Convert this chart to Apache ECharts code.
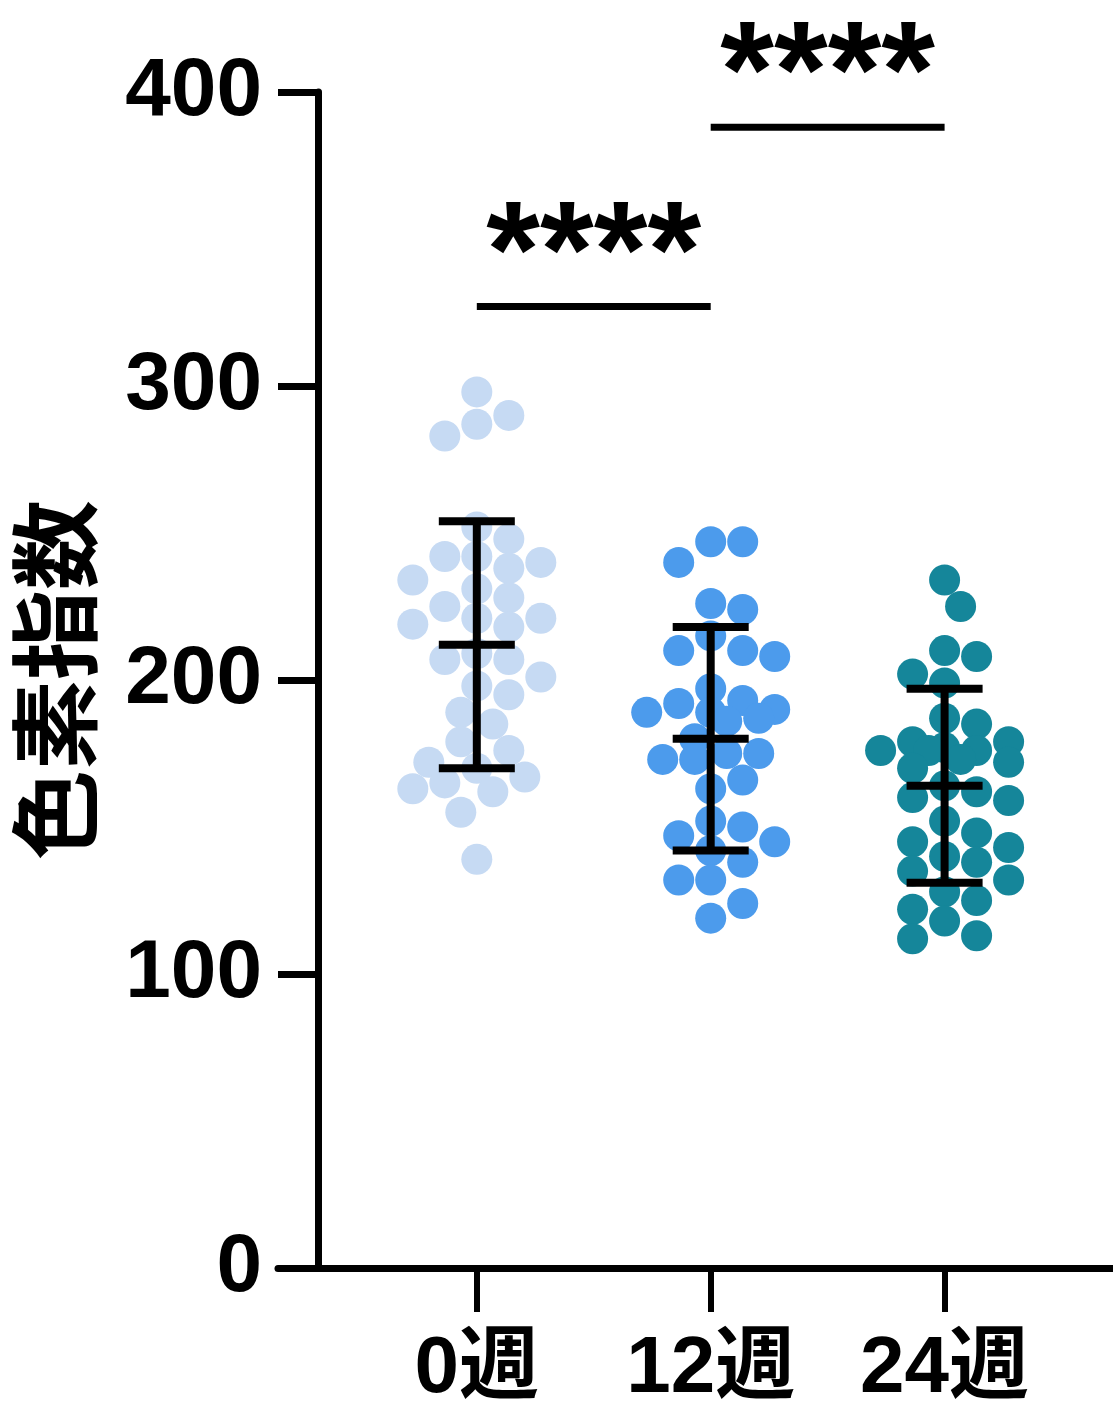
<!DOCTYPE html>
<html lang="ja">
<head>
    <meta charset="UTF-8">
    <title>色素指数</title>
    <script src="https://cdn.jsdelivr.net/npm/echarts@6/dist/echarts.min.js"></script>
    <style>
        html, body { margin: 0; padding: 0; background: #fff; }
    </style>
</head>
<body>
    <div id="main" style="width: 1113px;height: 1428px"></div>
    <script>
        // 各群の値
        var categories = ['0週', '12週', '24週'];
        var week0 = [298, 290, 287, 283, 252, 248, 242, 240, 242, 238, 234, 231, 228, 225, 221, 219, 221, 218,
            209, 207, 207, 201, 198, 195, 189, 185, 179, 176, 172, 170, 167, 165, 163, 162, 155, 139];
        var week12 = [247, 247, 240, 226, 224, 215, 210, 210, 208, 197, 193, 192, 190, 189, 189, 187, 186,
            180, 175, 175, 173, 173, 166, 163, 152, 150, 147, 145, 142, 138, 132, 132, 124, 119];
        var week24 = [234, 225, 210, 208, 202, 199, 187, 185, 179, 179, 177, 176, 176, 176, 173, 172, 170,
            164, 162, 160, 159, 152, 148, 145, 143, 140, 138, 135, 132, 128, 125, 122, 118, 113, 112];
        var means = [212, 180, 164];
        var sds = [42, 38, 33];
        var sigBars = [[0, 1, 327], [1, 2, 388]];
        var sigLabel = '****';
        var colors = ['#c6daf3', '#4c9bec', '#15869a'];

        var xMin = -0.85, xMax = 2.72;
        var gridW = 835, gridH = 1176;
        var xPx = gridW / (xMax - xMin);   // px / 1 カテゴリ
        var yPx = gridH / 400;             // px / 1 単位

        // 簡単なビースウォーム配置（幅は ±64px まで、入らなければ一番空いている所）
        var offsets = [0, 16, -16, 32, -32, 48, -48, 64, -64];
        function swarm(values, idx) {
            var placed = [];
            var sorted = values.slice().sort(function (a, b) { return b - a; });
            sorted.forEach(function (v) {
                var py = v * yPx;
                var best = null, bestD = -1;
                for (var k = 0; k < offsets.length; k++) {
                    var off = offsets[k];
                    var d = Infinity;
                    placed.forEach(function (p) {
                        var dx = p[0] - off, dy = p[1] - py;
                        d = Math.min(d, Math.sqrt(dx * dx + dy * dy));
                    });
                    if (d >= 29) { best = off; break; }
                    if (d > bestD) { bestD = d; best = off; }
                }
                placed.push([best, py]);
            });
            return placed.map(function (p) {
                return [idx + p[0] / xPx, p[1] / yPx];
            });
        }

        var groups = [week0, week12, week24];
        var scatterSeries = groups.map(function (vals, i) {
            return {
                type: 'scatter',
                data: swarm(vals, i),
                symbolSize: 31,
                itemStyle: { color: colors[i], opacity: 1 },
                z: 2
            };
        });

        var myChart = echarts.init(document.getElementById('main'));
        myChart.setOption({
            backgroundColor: '#fff',
            animation: false,
            grid: { left: 278, right: 0, top: 92, bottom: 160 },
            xAxis: {
                type: 'value',
                min: xMin,
                max: xMax,
                splitLine: { show: false },
                axisLine: { onZero: false, lineStyle: { color: '#000', width: 7 } },
                axisTick: { customValues: [0, 1, 2], length: 44, lineStyle: { color: '#000', width: 6 } },
                axisLabel: {
                    customValues: [0, 1, 2],
                    formatter: function (v) { return categories[Math.round(v)]; },
                    margin: 62,
                    color: '#000',
                    fontSize: 80,
                    fontWeight: 'bold',
                    fontFamily: '"Liberation Sans", "Noto Sans CJK JP", sans-serif'
                }
            },
            yAxis: {
                type: 'value',
                min: 0,
                max: 400,
                interval: 100,
                offset: -40,
                name: '色素指数',
                nameLocation: 'middle',
                nameRotate: 90,
                nameGap: 218,
                nameTextStyle: {
                    color: '#000',
                    fontSize: 90,
                    fontWeight: 'bold',
                    fontFamily: '"Noto Sans CJK JP", sans-serif'
                },
                splitLine: { show: false },
                axisLine: { show: true, onZero: false, lineStyle: { color: '#000', width: 7 } },
                axisTick: { show: true, length: 40, lineStyle: { color: '#000', width: 7 } },
                axisLabel: {
                    margin: 56,
                    color: '#000',
                    fontSize: 82,
                    fontWeight: 'bold',
                    fontFamily: '"Liberation Sans", sans-serif'
                }
            },
            series: scatterSeries.concat([
                {
                    // 平均 ± SD
                    type: 'custom',
                    data: means.map(function (m, i) { return [i, m, sds[i]]; }),
                    encode: { x: 0, y: 1 },
                    z: 5,
                    renderItem: function (params, api) {
                        var i = api.value(0), m = api.value(1), s = api.value(2);
                        var top = api.coord([i, m + s]);
                        var mid = api.coord([i, m]);
                        var bot = api.coord([i, m - s]);
                        var hw = 38;
                        var st = { stroke: '#000', lineWidth: 8 };
                        return {
                            type: 'group',
                            children: [
                                { type: 'line', shape: { x1: top[0], y1: top[1], x2: bot[0], y2: bot[1] }, style: st },
                                { type: 'line', shape: { x1: top[0] - hw, y1: top[1], x2: top[0] + hw, y2: top[1] }, style: st },
                                { type: 'line', shape: { x1: mid[0] - hw, y1: mid[1], x2: mid[0] + hw, y2: mid[1] }, style: st },
                                { type: 'line', shape: { x1: bot[0] - hw, y1: bot[1], x2: bot[0] + hw, y2: bot[1] }, style: st }
                            ]
                        };
                    }
                },
                {
                    // 有意差の線と ****
                    type: 'custom',
                    data: sigBars,
                    encode: { x: [0, 1], y: 2 },
                    clip: false,
                    z: 5,
                    renderItem: function (params, api) {
                        var a = api.coord([api.value(0), api.value(2)]);
                        var b = api.coord([api.value(1), api.value(2)]);
                        return {
                            type: 'group',
                            children: [
                                { type: 'line', shape: { x1: a[0], y1: a[1], x2: b[0], y2: b[1] }, style: { stroke: '#000', lineWidth: 7 } },
                                {
                                    type: 'text',
                                    style: {
                                        text: sigLabel,
                                        x: (a[0] + b[0]) / 2,
                                        y: a[1] - 48,
                                        align: 'center',
                                        verticalAlign: 'middle',
                                        font: 'bold 138px "Liberation Sans"',
                                        fill: '#000'
                                    }
                                }
                            ]
                        };
                    }
                }
            ])
        });
    </script>
</body>
</html>
